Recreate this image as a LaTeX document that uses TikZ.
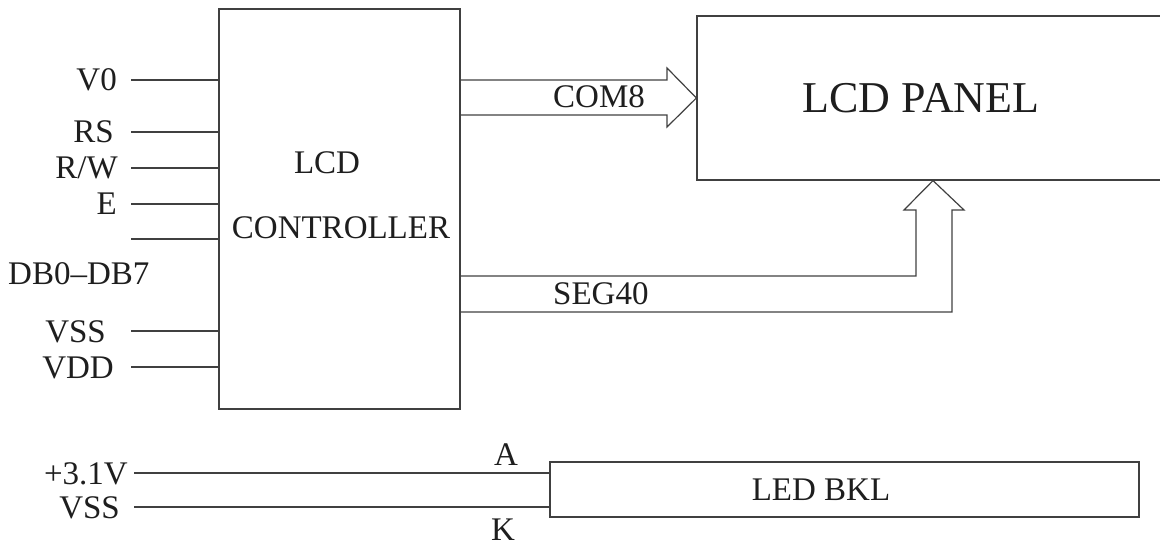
\documentclass[tikz,border=0pt]{standalone}
\usepackage{fontspec}
\setmainfont{Liberation Serif}
\usetikzlibrary{calc,positioning}
\definecolor{linec}{HTML}{404040}
\definecolor{txtc}{HTML}{1E1E1E}
\tikzset{
  wire/.style={draw=linec,line width=1.2pt},
  blk/.style={rectangle,draw=linec,line width=1.2pt,inner sep=0pt},
  lbl/.style={font=\fontsize{33}{36}\selectfont,text=txtc,inner sep=0pt,text height=22pt,text depth=0pt},
  biglbl/.style={font=\fontsize{44}{48}\selectfont,text=txtc,inner sep=0pt,text height=29pt,text depth=0pt}
}

\begin{document}
\begin{tikzpicture}[x=1pt,y=-1pt]
\useasboundingbox (0,0) rectangle (1160,548);
\clip (0,0) rectangle (1160,548);
% blocks
\node[blk,minimum width=241pt,minimum height=400pt] (ctrl) at (339.5,209) {};
\node[blk,minimum width=483pt,minimum height=164pt] (panel) at (938.5,98) {};
\node[blk,minimum width=589pt,minimum height=55pt] (bkl) at (844.5,489.5) {};
\node[lbl] (ctrla) at (327,163) {LCD};
\node[lbl] (ctrlb) at (341,228) {CONTROLLER};
\node[biglbl] (paneltxt) at (921,98) {LCD PANEL};
\node[lbl] (bkltxt) at (821,489.5) {LED BKL};
% controller pins
\foreach \nm/\yy/\xx [count=\i] in {V0/80/117,RS/132/114,{R/W}/168/118,E/204/117,{}/239/117,VSS/331/106,VDD/367/114}{
  \coordinate (pin\i) at (131,\yy);
  \node[lbl,anchor=east] (pl\i) at (\xx,\yy) {\nm};
  \draw[wire] (pin\i) -- (pin\i -| ctrl.west);
}
\node[lbl,anchor=west] (db) at (8,274) {DB0--DB7};
% buses
\draw[wire] (ctrl.east |- 0,80) -- (667,80) -- (667,68) -- (panel.west) -- (667,127) -- (667,115) -- (ctrl.east |- 0,115);
\node[lbl,anchor=west] (com) at (553,97) {COM8};
\draw[wire] (ctrl.east |- 0,276) -- (916,276) -- (916,210) -- (904,210) -- (933,0 |- panel.south)
  -- (964,210) -- (952,210) -- (952,312) -- (ctrl.east |- 0,312);
\node[lbl,anchor=west] (seg) at (553,294) {SEG40};
% backlight
\coordinate (ba) at (134,473);
\coordinate (bk) at (134,507);
\node[lbl,anchor=east] (vp) at (128,473) {+3.1V};
\node[lbl,anchor=east] (vs) at (120,507) {VSS};
\draw[wire] (ba) -- (ba -| bkl.west);
\draw[wire] (bk) -- (bk -| bkl.west);
\node[lbl] (la) at (506,454) {A};
\node[lbl] (lk) at (503,529) {K};
\end{tikzpicture}
\end{document}
